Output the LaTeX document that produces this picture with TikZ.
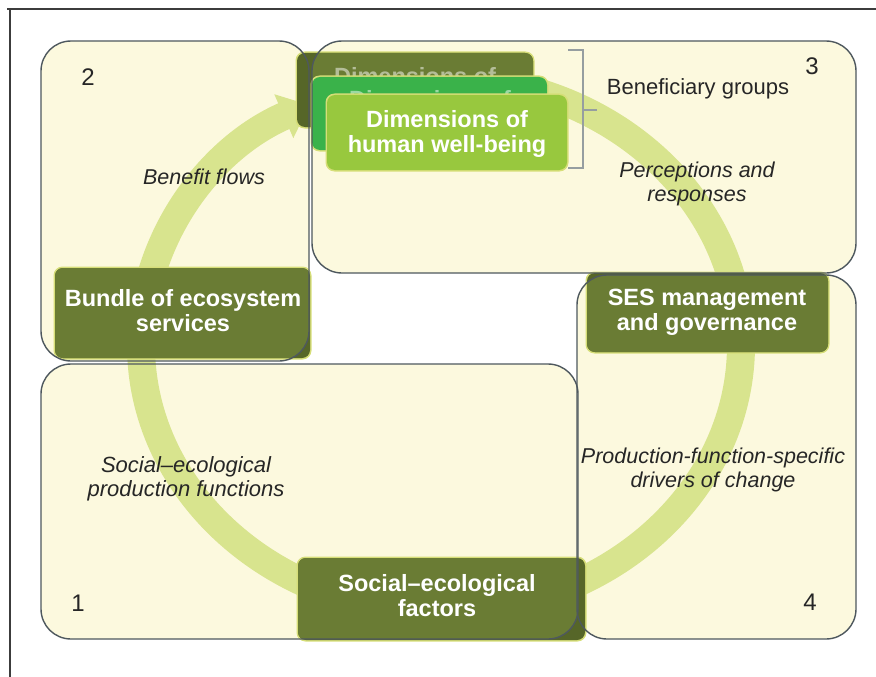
\documentclass[tikz,border=0pt]{standalone}
\usepackage{fontspec}
\setmainfont{Liberation Sans}
\usetikzlibrary{arrows.meta}
\definecolor{cream}{RGB}{252,249,222}
\definecolor{ringc}{RGB}{216,228,142}
\definecolor{dkgreen}{RGB}{106,124,52}
\definecolor{dkshade}{RGB}{86,102,40}
\definecolor{glowc}{RGB}{214,222,120}
\definecolor{midgreen}{RGB}{58,178,74}
\definecolor{ltgreen}{RGB}{152,200,62}
\definecolor{outl}{RGB}{78,88,94}
\definecolor{brk}{RGB}{150,158,160}
\definecolor{framec}{RGB}{60,60,60}
\tikzset{
  boxfill/.style={fill=cream, rounded corners=30pt},
  boxline/.style={draw=outl, line width=1.4pt, rounded corners=30pt},
  ring/.style={draw=ringc, line width=28pt},
  dklabel/.style={text=white, align=center, font=\bfseries\fontsize{23.5}{25}\selectfont},
  fadelabel/.style={text=white, text opacity=0.5, inner sep=0pt, align=center, font=\bfseries\fontsize{23.5}{25}\selectfont},
  itlabel/.style={text=black!85, align=center, font=\itshape\fontsize{21.5}{24}\selectfont},
  rglabel/.style={text=black!85, align=center, font=\fontsize{22}{25}\selectfont},
  numlabel/.style={text=black!85, font=\fontsize{24}{26}\selectfont},
}
\begin{document}
\begin{tikzpicture}[x=1pt,y=-1pt]
\useasboundingbox (0,0) rectangle (876,677);
\fill[white] (0,0) rectangle (876,677);
% frame
\draw[framec, line width=1.2pt] (7,9) -- (876,9);
\draw[framec, line width=1.2pt] (10,9) -- (10,677);
% cream panels
\fill[boxfill] (41,41) rectangle (309,361);
\fill[boxfill] (312,41) rectangle (856,273);
\fill[boxfill] (577,275) rectangle (856,639);
\fill[boxfill] (41,364) rectangle (578,639);
% ring arrow
\draw[ring, -{Triangle[length=28pt,width=46pt]}] (441,78) arc[start angle=-90, end angle=244, x radius=300, y radius=267];
% Dimensions boxes (back, middle, front)
\fill[glowc, rounded corners=9pt] (295.5,51.5) rectangle (534.5,128.5);
\fill[dkshade, rounded corners=8pt] (297,53) rectangle (533,127);
\begin{scope}
\clip[rounded corners=30pt] (312,41) rectangle (856,273);
\fill[dkgreen, rounded corners=8pt] (297,53) rectangle (533,127);
\end{scope}
\node[fadelabel] (dimback) at (415,76) {Dimensions of};
\fill[glowc, rounded corners=9pt] (310.5,75.5) rectangle (548.5,151.5);
\fill[midgreen, rounded corners=8pt] (312,77) rectangle (547,150);
\node[fadelabel] (dimmid) at (430,99) {Dimensions of};
\fill[glowc, rounded corners=9pt] (325.5,93.5) rectangle (568.5,171.5);
\fill[ltgreen, rounded corners=8pt] (327,95) rectangle (567,170);
\node[dklabel, inner sep=0pt] (dimfront) at (447,134) {Dimensions of\\human well-being};
% bracket
\draw[brk, line width=1.5pt] (568,50) -- (583,50) -- (583,168) -- (568,168);
\draw[brk, line width=1.5pt] (583,110) -- (597,110);
% Bundle
\fill[glowc, rounded corners=9pt] (53.5,266.5) rectangle (311.5,359.5);
\fill[dkshade, rounded corners=8pt] (55,268) rectangle (310,358);
\begin{scope}
\clip[rounded corners=30pt] (41,41) rectangle (309,361);
\fill[dkgreen, rounded corners=8pt] (55,268) rectangle (310,358);
\end{scope}
\node[dklabel] (bundle) at (183,311) {Bundle of ecosystem\\services};
% SES
\fill[glowc, rounded corners=9pt] (585.5,271.5) rectangle (829.5,353.5);
\fill[dkshade, rounded corners=8pt] (587,273) rectangle (828,352);
\begin{scope}
\clip[rounded corners=30pt] (577,275) rectangle (856,639);
\fill[dkgreen, rounded corners=8pt] (587,273) rectangle (828,352);
\end{scope}
\node[dklabel] (ses) at (707,312) {SES management\\and governance};
% Social-ecological factors
\fill[glowc, rounded corners=9pt] (296.5,556.5) rectangle (586.5,641.5);
\fill[dkshade, rounded corners=8pt] (298,558) rectangle (585,640);
\begin{scope}
\clip[rounded corners=30pt] (41,364) rectangle (578,639);
\fill[dkgreen, rounded corners=8pt] (298,558) rectangle (585,640);
\end{scope}
\node[dklabel] (factors) at (437,596) {Social--ecological\\factors};
% outlines
\draw[boxline] (41,41) rectangle (309,361);
\draw[boxline] (312,41) rectangle (856,273);
\draw[boxline] (577,275) rectangle (856,639);
\draw[boxline] (41,364) rectangle (578,639);
% labels
\node[numlabel] (n2) at (88,77) {2};
\node[numlabel] (n3) at (812,66) {3};
\node[numlabel] (n1) at (78,603) {1};
\node[numlabel] (n4) at (810,602) {4};
\node[itlabel] (benefit) at (204,177) {Benefit flows};
\node[rglabel] (benef) at (698,89) {Beneficiary groups};
\node[itlabel] (percep) at (697,184) {Perceptions and\\responses};
\node[itlabel, font=\itshape\fontsize{22}{24}\selectfont] (sepf) at (186,479) {Social--ecological\\production functions};
\node[itlabel] (pfs) at (713,470) {Production-function-specific\\drivers of change};
\end{tikzpicture}
\end{document}
